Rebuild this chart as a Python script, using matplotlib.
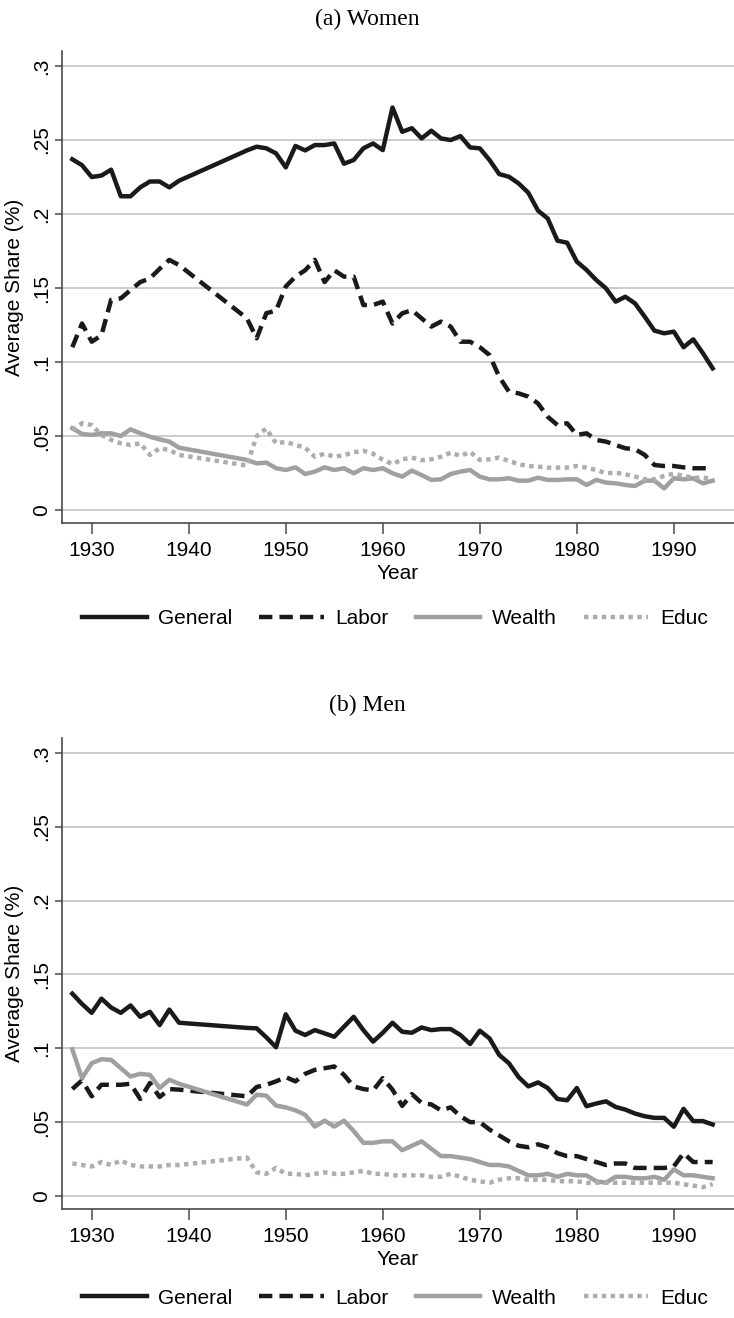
import matplotlib
matplotlib.use("Agg")
import matplotlib.pyplot as plt

# years with data (gap during the war years)
years = list(range(1928, 1940)) + list(range(1946, 1995))

# (a) Women
w_general = [0.237, 0.233, 0.225, 0.226, 0.230, 0.212, 0.212, 0.218, 0.222, 0.222, 0.218, 0.2225,
             0.243, 0.2455, 0.2444, 0.241, 0.2315, 0.246, 0.243, 0.2466, 0.2466, 0.2477, 0.234, 0.2365,
             0.2444, 0.2477, 0.2432, 0.272,
             0.2556, 0.258, 0.2511, 0.2563, 0.2511, 0.250, 0.2527, 0.245, 0.2444,
             0.2365, 0.227, 0.2252, 0.2207, 0.2144, 0.2023, 0.197, 0.182, 0.1806, 0.1678,
             0.1622, 0.1554, 0.1498, 0.1408, 0.1441, 0.1396, 0.1306, 0.1212, 0.1194, 0.1205,
             0.110, 0.1153, 0.1059, 0.0957]
w_labor = [0.110, 0.126, 0.1137, 0.118, 0.142, 0.143, 0.1486, 0.154, 0.1565, 0.163, 0.169, 0.1655,
           0.1295, 0.116, 0.133, 0.1347, 0.151, 0.1577, 0.162, 0.169, 0.154, 0.162, 0.1577, 0.1577,
           0.1385, 0.1385, 0.1408, 0.126,
           0.1329, 0.135, 0.1295, 0.1239, 0.1273, 0.1239, 0.1137, 0.1137, 0.110,
           0.1047, 0.090, 0.080, 0.0788, 0.0766, 0.072, 0.063, 0.0574, 0.0586, 0.0507,
           0.0518, 0.0473, 0.0462, 0.0439, 0.0417, 0.041, 0.0372, 0.0304, 0.0297, 0.0297,
           0.0288, 0.0282, 0.0282, 0.0282]
w_wealth = [0.0552, 0.0514, 0.0507, 0.0518, 0.0518, 0.050, 0.0545, 0.0518, 0.0495, 0.0477, 0.0462, 0.0421,
            0.0338, 0.0315, 0.032, 0.0282, 0.027, 0.0288, 0.0243, 0.0259, 0.0288, 0.027, 0.0282, 0.0248,
            0.0282, 0.027, 0.0282, 0.0248,
            0.0225, 0.0266, 0.0236, 0.0203, 0.0207, 0.0243, 0.0259, 0.027, 0.0225,
            0.0207, 0.0207, 0.0214, 0.0198, 0.0198, 0.0218, 0.0203, 0.0203, 0.0207, 0.0207,
            0.0169, 0.0203, 0.0185, 0.018, 0.0169, 0.0162, 0.0198, 0.0198, 0.0146, 0.0214,
            0.0207, 0.0214, 0.018, 0.0198]
w_educ = [0.054, 0.0586, 0.0574, 0.0507, 0.0473, 0.045, 0.0439, 0.045, 0.0372, 0.0417, 0.0405, 0.0372,
          0.030, 0.050, 0.055, 0.045, 0.046, 0.044, 0.042, 0.036, 0.038, 0.036, 0.037, 0.039,
          0.040, 0.038, 0.034, 0.031,
          0.0342, 0.0354, 0.0336, 0.0342, 0.036, 0.0387, 0.0365, 0.0392, 0.0338,
          0.0342, 0.0354, 0.0331, 0.0309, 0.0297, 0.0293, 0.0286, 0.0286, 0.0286, 0.0297,
          0.0286, 0.027, 0.0248, 0.0252, 0.0241, 0.0225, 0.0207, 0.0207, 0.023, 0.0245,
          0.023, 0.0218, 0.0218, 0.0212]

# (b) Men
m_general = [0.137, 0.130, 0.124, 0.1336, 0.1276, 0.124, 0.129, 0.1213, 0.1247, 0.1157, 0.1262, 0.1173,
             0.1138, 0.1135, 0.1074, 0.1007, 0.123, 0.1119, 0.109, 0.1123, 0.1101, 0.1078, 0.1146, 0.1213,
             0.1123, 0.1045, 0.1105, 0.1173,
             0.1112, 0.1105, 0.1141, 0.1123, 0.113, 0.113, 0.109, 0.1029, 0.1119,
             0.1067, 0.0955, 0.0899, 0.0805, 0.0742, 0.0769, 0.0731, 0.0657, 0.0648, 0.0731,
             0.0608, 0.0626, 0.0641, 0.0603, 0.0585, 0.0558, 0.054, 0.0529, 0.0529, 0.0469,
             0.059, 0.0507, 0.0507, 0.0484]
m_labor = [0.0724, 0.0783, 0.0675, 0.0753, 0.0753, 0.0753, 0.076, 0.0657, 0.0765, 0.067, 0.0724, 0.072,
           0.0675, 0.0738, 0.0753, 0.0776, 0.0805, 0.0776, 0.0827, 0.0854, 0.0865, 0.0877, 0.082, 0.0742,
           0.0724, 0.0715, 0.0798, 0.072,
           0.061, 0.069, 0.063, 0.062, 0.058, 0.060, 0.054, 0.050, 0.050,
           0.045, 0.041, 0.037, 0.034, 0.033, 0.035, 0.033, 0.029, 0.027, 0.027,
           0.025, 0.023, 0.021, 0.022, 0.022, 0.019, 0.019, 0.019, 0.019, 0.020,
           0.029, 0.023, 0.023, 0.023]
m_wealth = [0.0993, 0.0798, 0.0899, 0.0926, 0.0922, 0.0865, 0.0809, 0.0827, 0.082, 0.0731, 0.0787, 0.076,
            0.0619, 0.0686, 0.0679, 0.0612, 0.060, 0.058, 0.055, 0.047, 0.051, 0.047, 0.051, 0.044,
            0.036, 0.036, 0.037, 0.037,
            0.031, 0.034, 0.037, 0.032, 0.027, 0.027, 0.026, 0.025, 0.023,
            0.021, 0.021, 0.020, 0.017, 0.014, 0.014, 0.015, 0.013, 0.015, 0.014,
            0.014, 0.010, 0.009, 0.013, 0.013, 0.012, 0.012, 0.013, 0.011, 0.018,
            0.014, 0.014, 0.013, 0.012]
m_educ = [0.022, 0.021, 0.020, 0.023, 0.021, 0.024, 0.021, 0.020, 0.020, 0.020, 0.021, 0.021,
          0.026, 0.016, 0.015, 0.019, 0.015, 0.015, 0.014, 0.015, 0.016, 0.015, 0.015, 0.016,
          0.017, 0.015, 0.015, 0.014,
          0.014, 0.014, 0.014, 0.013, 0.013, 0.015, 0.013, 0.011, 0.010,
          0.009, 0.011, 0.012, 0.012, 0.011, 0.011, 0.011, 0.010, 0.010, 0.010,
          0.009, 0.009, 0.009, 0.009, 0.009, 0.009, 0.009, 0.009, 0.009, 0.009,
          0.008, 0.007, 0.006, 0.008]

yticks = [0, 0.05, 0.1, 0.15, 0.2, 0.25, 0.3]
ytick_labels = ["0", ".05", ".1", ".15", ".2", ".25", ".3"]
xticks = [1930, 1940, 1950, 1960, 1970, 1980, 1990]
series_names = ["General", "Labor", "Wealth", "Educ"]

sans = ["Liberation Sans", "DejaVu Sans"]
serif = ["Liberation Serif", "DejaVu Serif"]
tick_size = 15

styles = [
    dict(color="#1a1a1a", lw=3.2, ls="-"),
    dict(color="#1a1a1a", lw=3.2, ls=(0, (3, 1.6))),
    dict(color="#a0a0a0", lw=3.2, ls="-"),
    dict(color="#adadad", lw=3.2, ls=(0, (1, 1))),
]


def draw_panel(ax, data):
    lines = []
    for vals, st in zip(data, styles):
        ln, = ax.plot(years, vals, color=st["color"], lw=st["lw"], ls=st["ls"],
                      solid_joinstyle="round", dash_capstyle="butt")
        lines.append(ln)
    ax.set_xlim(1926.94, 1996.2)
    ax.set_ylim(-0.0088, 0.31)
    ax.set_yticks(yticks)
    ax.set_yticklabels(ytick_labels, rotation=90, va="center", family=sans, fontsize=tick_size)
    ax.set_xticks(xticks)
    ax.set_xticklabels([str(x) for x in xticks], family=sans, fontsize=tick_size)
    ax.grid(axis="y", color="#c8c8c8", lw=1.3)
    ax.set_axisbelow(True)
    for s in ["top", "right"]:
        ax.spines[s].set_visible(False)
    for s in ["left", "bottom"]:
        ax.spines[s].set_color("#4a4a4a")
        ax.spines[s].set_linewidth(1.2)
    ax.tick_params(axis="y", length=5, width=1.1, color="#4a4a4a", pad=3)
    ax.tick_params(axis="x", length=8, width=1.1, color="#4a4a4a", pad=5)
    ax.set_xlabel("Year", family=sans, fontsize=tick_size, labelpad=3)
    ax.set_ylabel("Average Share (%)", family=sans, fontsize=tick_size, labelpad=6)
    return lines


fig = plt.figure(figsize=(7.34, 13.18), dpi=100)
ax1 = fig.add_axes([0.0845, 0.6032, 0.9155, 0.3579])
ax2 = fig.add_axes([0.0845, 0.0827, 0.9155, 0.3573])

l1 = draw_panel(ax1, [w_general, w_labor, w_wealth, w_educ])
l2 = draw_panel(ax2, [m_general, m_labor, m_wealth, m_educ])

fig.text(0.5, 1 - 19 / 1318, "(a) Women", ha="center", va="center", family=serif, fontsize=17)
fig.text(0.5, 1 - 705 / 1318, "(b) Men", ha="center", va="center", family=serif, fontsize=17)

for lines, ycen in [(l1, 619), (l2, 1298)]:
    fig.legend(lines, series_names, loc="center", bbox_to_anchor=(0.538, 1 - ycen / 1318),
               ncol=4, frameon=False, handlelength=3.1, handletextpad=0.55, columnspacing=1.3,
               prop={"family": sans, "size": tick_size})

fig.savefig("out.png", dpi=100)
